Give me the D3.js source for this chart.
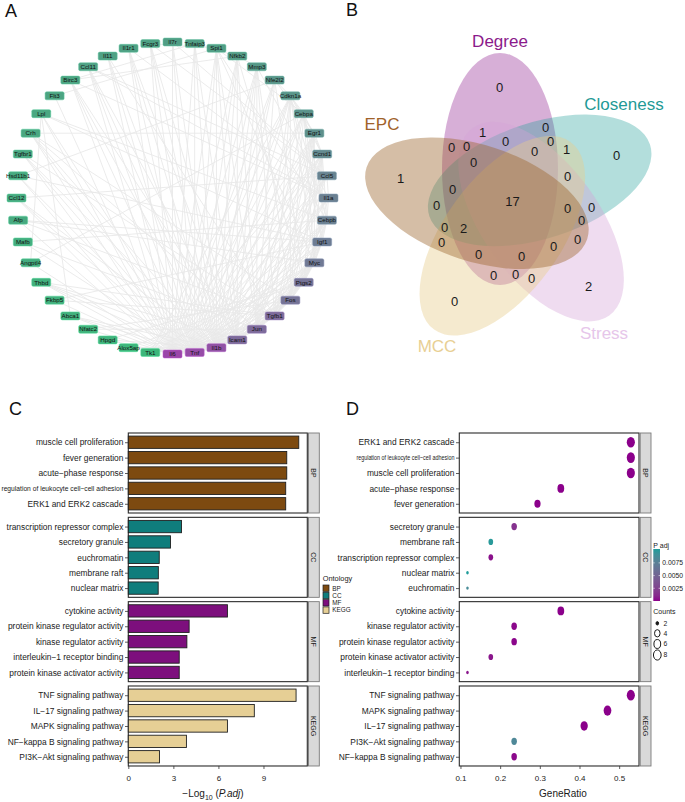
<!DOCTYPE html>
<html>
<head>
<meta charset="UTF-8">
<title>Hub genes and enrichment</title>
<script src="https://d3js.org/d3.v7.min.js"></script>
<style>
body { margin: 0; background: #fff; }
text { font-family: "Liberation Sans", Arial, sans-serif; }
</style>
</head>
<body>
<svg class="figure"></svg>
<script>
// ---------------- data ----------------
// A: PPI network, genes in circle order (from the bottom, going round to the right)
const genes = ["Il6","Tnf","Il1b","Icam1","Jun","Tgfb1","Fos","Ptgs2","Myc","Igf1","Cebpb","Il1a",
  "Ccl5","Ccnd1","Egr1","Cebpa","Cdkn1a","Nfe2l2","Mmp3","Nfkb2","Spi1","Tnfaip3","Il7r","Fcgr3",
  "Il1r1","Il11","Ccl11","Birc3","Flt3","Lpl","Crh","Tgfbr1","Hsd11b1","Ccl12","Afp","Mafb",
  "Angptl4","Thbd","Fkbp5","Abca1","Nfatc2","Hpgd","Alox5ap","Tk1"];
// degree
const geneDegree = [40,38,36,28,28,28,25,25,23,22,21,21,20,18,16,15,14,14,13,12,11,11,11,10,
  10,10,10,9,9,8,8,8,7,7,7,6,6,5,5,5,4,4,3,3];
const ppiEdges = [
  ["Il6","Tnf Il1b Icam1 Jun Tgfb1 Fos Ptgs2 Myc Igf1 Cebpb Il1a Ccl5 Ccnd1 Egr1 Cebpa Cdkn1a Nfe2l2 Mmp3 Nfkb2 Spi1 Tnfaip3 Il7r Fcgr3 Il1r1 Il11 Ccl11 Birc3 Flt3 Lpl Crh Tgfbr1 Hsd11b1 Ccl12 Afp Angptl4 Thbd Fkbp5 Abca1 Nfatc2 Hpgd"],
  ["Tnf","Il1b Icam1 Jun Tgfb1 Fos Ptgs2 Myc Igf1 Cebpb Il1a Ccl5 Ccnd1 Egr1 Cebpa Cdkn1a Nfe2l2 Mmp3 Nfkb2 Spi1 Tnfaip3 Il7r Fcgr3 Il1r1 Il11 Ccl11 Birc3 Lpl Crh Tgfbr1 Hsd11b1 Ccl12 Mafb Thbd Abca1 Alox5ap"],
  ["Il1b","Icam1 Jun Tgfb1 Fos Ptgs2 Myc Igf1 Cebpb Il1a Ccl5 Egr1 Cebpa Nfe2l2 Mmp3 Nfkb2 Tnfaip3 Il1r1 Il11 Ccl11 Birc3 Crh Ccl12 Hpgd Abca1 Fcgr3 Il7r Spi1 Thbd Alox5ap Ccnd1 Cdkn1a Tgfbr1"],
  ["Icam1","Jun Tgfb1 Fos Ptgs2 Myc Cebpb Il1a Ccl5 Egr1 Mmp3 Nfkb2 Spi1 Tnfaip3 Fcgr3 Il1r1 Ccl11 Thbd Birc3"],
  ["Jun","Tgfb1 Fos Ptgs2 Myc Igf1 Cebpb Ccnd1 Egr1 Cebpa Cdkn1a Nfe2l2 Mmp3 Nfkb2 Spi1 Nfatc2 Mafb Crh"],
  ["Tgfb1","Fos Ptgs2 Myc Igf1 Ccl5 Ccnd1 Egr1 Cdkn1a Mmp3 Tgfbr1 Il11 Afp Thbd Fkbp5"],
  ["Fos","Ptgs2 Myc Igf1 Cebpb Ccnd1 Egr1 Cebpa Cdkn1a Mmp3 Nfatc2 Crh"],
  ["Ptgs2","Myc Igf1 Cebpb Il1a Ccnd1 Egr1 Nfe2l2 Hpgd Alox5ap Nfkb2"],
  ["Myc","Igf1 Cebpb Ccnd1 Egr1 Cebpa Cdkn1a Spi1 Tk1 Afp"],
  ["Igf1","Cebpb Ccnd1 Cdkn1a Cebpa Lpl Afp Hsd11b1 Fkbp5"],
  ["Cebpb","Cebpa Il1a Ccnd1 Cdkn1a Spi1 Mafb Lpl"],
  ["Il1a","Ccl5 Il1r1 Mmp3 Birc3 Ccl11"],
  ["Ccl5","Ccl11 Ccl12 Il7r Fcgr3"],
  ["Ccnd1","Cdkn1a Egr1 Cebpa Tk1"],
  ["Egr1","Cdkn1a Nfe2l2 Crh"],
  ["Cebpa","Spi1 Cdkn1a Angptl4"],
  ["Cdkn1a","Nfe2l2 Tk1"],
  ["Nfe2l2","Hsd11b1"],
  ["Mmp3","Nfkb2"],
  ["Nfkb2","Birc3 Tnfaip3"],
  ["Spi1","Flt3 Fcgr3"],
  ["Tnfaip3","Birc3"],
  ["Lpl","Angptl4 Abca1"]
];

// B: five-way Venn of hub-gene rankings
const vennSets = ["Degree","Closeness","Stress","MCC","EPC"];
const vennRegions = [["Degree","Closeness","Stress","MCC","EPC"], ["EPC"], ["Stress"],
  ["Degree","Stress"], ["Closeness","MCC"], ["Degree","Closeness","MCC","EPC"]];
const vennRegionCounts = [17, 1, 2, 1, 1, 2];   // every other region holds 0

// C / D: enrichment terms
const ontologies = ["BP","CC","MF","KEGG"];
const termNames = [
  "muscle cell proliferation","fever generation","acute\u2212phase response",
  "regulation of leukocyte cell\u2212cell adhesion","ERK1 and ERK2 cascade",
  "transcription repressor complex","secretory granule","euchromatin","membrane raft","nuclear matrix",
  "cytokine activity","protein kinase regulator activity","kinase regulator activity",
  "interleukin\u22121 receptor binding","protein kinase activator activity",
  "TNF signaling pathway","IL\u221217 signaling pathway","MAPK signaling pathway",
  "NF\u2212kappa B signaling pathway","PI3K\u2212Akt signaling pathway"];
const termOntology = ["BP","BP","BP","BP","BP","CC","CC","CC","CC","CC",
  "MF","MF","MF","MF","MF","KEGG","KEGG","KEGG","KEGG","KEGG"];
const negLog10Padj = [11.35,10.55,10.55,10.48,10.48, 3.54,2.81,2.06,2.00,1.99,
  6.60,4.05,3.90,3.39,3.39, 11.17,8.39,6.60,3.87,2.08];
const geneCount = [9,5,6,9,9, 3,4,2,3,2, 6,4,4,2,3, 9,7,8,4,4];
const geneTotal = 17;
const xTicksC = [0,3,6,9];
const xTicksD = [0.1,0.2,0.3,0.4,0.5];
const padjTicks = [0.0025,0.005,0.0075];
const countTicks = [2,4,6,8];

// ---------------- figure ----------------
const W = 685, H = 802;
const svg = d3.select(".figure").attr("width", W).attr("height", H);
svg.append("rect").attr("width", W).attr("height", H).attr("fill", "#fff");

// panel letters
[["A",5,17],["B",346,16],["C",9,415],["D",346,415]].forEach(([t,x,y])=>{
  svg.append("text").attr("x",x).attr("y",y).attr("font-size",18).attr("fill","#111").text(t);
});

// ---------- A: circular network ----------
const netC = {x:172.5, y:198}, netR = 156;
const net = svg.append("g");
const pos = {};
genes.forEach((g,i)=>{
  const a = i*2*Math.PI/genes.length;
  pos[g] = {x: netC.x + netR*Math.sin(a), y: netC.y + netR*Math.cos(a)};
});
const edgeList = [];
ppiEdges.forEach(([s,ts])=> ts.split(" ").forEach(t=> edgeList.push([s,t])));

net.selectAll("line.edge").data(edgeList).enter().append("line")
  .attr("class","edge")
  .attr("x1",d=>pos[d[0]].x).attr("y1",d=>pos[d[0]].y)
  .attr("x2",d=>pos[d[1]].x).attr("y2",d=>pos[d[1]].y)
  .attr("stroke","#e9e9e9").attr("stroke-width",0.9);

const degColor = d3.scaleLinear()
  .domain([d3.min(geneDegree), d3.max(geneDegree)])
  .range(["#3db67b","#9b46a9"]);

const node = net.selectAll("g.node").data(genes).enter().append("g")
  .attr("class","node")
  .attr("transform",d=>`translate(${pos[d].x},${pos[d].y})`);
node.append("rect")
  .attr("x",-9.5).attr("y",-4).attr("width",19).attr("height",8).attr("rx",1.5)
  .attr("fill",(d,i)=>degColor(geneDegree[i]))
  .attr("stroke",(d,i)=>d3.color(degColor(geneDegree[i])).brighter(0.6))
  .attr("stroke-width",0.5);
node.append("text")
  .attr("text-anchor","middle").attr("dy","0.35em")
  .attr("font-size",6.2).attr("fill","#111")
  .text(d=>d);

// ---------- B: Venn ----------
const vennC = [512, 202], vennShift = [-12, -33], vennRx = 58, vennRy = 116;
const vennFill = ["#8b1a8b","#1f9e97","#d6a4d8","#e6cc8c","#9a642c"];
const vennAlpha = [0.35,0.34,0.38,0.42,0.42];
const vennInk = ["#8b1a8b","#1f9a96","#e6c6ea","#e8cf94","#a0622a"];
const vennLabelAt = [[500,41],[624,104],[604,333],[437,346],[382,124]];

const ell = vennSets.map((s,i)=>{
  const t = i*72*Math.PI/180;
  return {set:s, t, rot:i*72,
    cx: vennC[0] + vennShift[0]*Math.cos(t) - vennShift[1]*Math.sin(t),
    cy: vennC[1] + vennShift[0]*Math.sin(t) + vennShift[1]*Math.cos(t)};
});
const inside = (e,x,y)=>{
  const dx=x-e.cx, dy=y-e.cy;
  const u = dx*Math.cos(e.t) + dy*Math.sin(e.t);
  const v = -dx*Math.sin(e.t) + dy*Math.cos(e.t);
  return (u/vennRx)**2 + (v/vennRy)**2 <= 1;
};

const venn = svg.append("g");
venn.selectAll("ellipse").data(ell).enter().append("ellipse")
  .attr("cx",d=>d.cx).attr("cy",d=>d.cy).attr("rx",vennRx).attr("ry",vennRy)
  .attr("transform",d=>`rotate(${d.rot},${d.cx},${d.cy})`)
  .attr("fill",(d,i)=>vennFill[i]).attr("fill-opacity",(d,i)=>vennAlpha[i]);

venn.selectAll("text.set").data(vennSets).enter().append("text")
  .attr("class","set")
  .attr("x",(d,i)=>vennLabelAt[i][0]).attr("y",(d,i)=>vennLabelAt[i][1])
  .attr("text-anchor","middle").attr("dy","0.35em")
  .attr("font-size",17).attr("fill",(d,i)=>vennInk[i])
  .text(d=>d);

// region counts keyed by membership bitmask
const regionCount = {};
vennRegions.forEach((r,k)=>{
  const key = r.reduce((m,s)=> m | (1<<vennSets.indexOf(s)), 0);
  regionCount[key] = vennRegionCounts[k];
});

// place each region's number at the point deepest inside that region
const gx0 = 350, gy0 = 40, gw = 320, gh = 300;
const key = new Int32Array(gw*gh);
for (let j=0;j<gh;j++) for (let i=0;i<gw;i++){
  let k = 0;
  ell.forEach((e,s)=>{ if (inside(e, gx0+i+0.5, gy0+j+0.5)) k |= (1<<s); });
  key[j*gw+i] = k;
}
const dist = new Float32Array(gw*gh);
for (let j=0;j<gh;j++) for (let i=0;i<gw;i++){
  const id=j*gw+i, k=key[id];
  let edge = (i===0||j===0||i===gw-1||j===gh-1);
  if (!edge) edge = key[id-1]!==k || key[id+1]!==k || key[id-gw]!==k || key[id+gw]!==k;
  dist[id] = edge ? 0.5 : 1e9;
}
const D2 = Math.SQRT2;
for (let j=1;j<gh;j++) for (let i=1;i<gw-1;i++){
  const id=j*gw+i;
  dist[id] = Math.min(dist[id], dist[id-1]+1, dist[id-gw]+1, dist[id-gw-1]+D2, dist[id-gw+1]+D2);
}
for (let j=gh-2;j>=0;j--) for (let i=gw-2;i>0;i--){
  const id=j*gw+i;
  dist[id] = Math.min(dist[id], dist[id+1]+1, dist[id+gw]+1, dist[id+gw+1]+D2, dist[id+gw-1]+D2);
}
const best = {};
for (let id=0;id<gw*gh;id++){
  const k = key[id];
  if (!k) continue;
  if (!best[k] || dist[id] > best[k].d) best[k] = {d:dist[id], x:gx0+(id%gw)+0.5, y:gy0+Math.floor(id/gw)+0.5};
}
const vennLabels = Object.keys(best).map(k=>({key:+k, x:best[k].x, y:best[k].y, n: regionCount[k] || 0}));
venn.selectAll("text.count").data(vennLabels).enter().append("text")
  .attr("class","count")
  .attr("x",d=>d.x).attr("y",d=>d.y)
  .attr("text-anchor","middle").attr("dy","0.36em")
  .attr("font-size",13).attr("fill","#1a1a1a")
  .text(d=>d.n);

// ---------- C and D: faceted enrichment plots ----------
const facetTop = 433, facetH = 80, facetGap = 4.33;
const facetY = i => facetTop + i*(facetH+facetGap);
const ontColor = {BP:"#7d4a10", CC:"#0f7d7c", MF:"#7d0f7d", KEGG:"#e6cf95"};
const terms = termNames.map((t,i)=>({term:t, ont:termOntology[i], idx:i,
  logp:negLog10Padj[i], count:geneCount[i], ratio:geneCount[i]/geneTotal,
  padj: Math.pow(10, -negLog10Padj[i])}));

function drawFrame(g, x0, x1, top, label){
  g.append("rect").attr("x",x0).attr("y",top).attr("width",x1-x0).attr("height",facetH)
    .attr("fill","none").attr("stroke","#2b2b2b").attr("stroke-width",1.1);
  g.append("rect").attr("x",x1+1.2).attr("y",top).attr("width",10.8).attr("height",facetH)
    .attr("fill","#d9d9d9").attr("stroke","#7a7a7a").attr("stroke-width",0.9);
  g.append("text")
    .attr("transform",`translate(${x1+6.6},${top+facetH/2}) rotate(90)`)
    .attr("text-anchor","middle").attr("dy","0.35em")
    .attr("font-size",7).attr("fill","#1a1a1a").text(label);
}
function styleAxis(a, fs){
  a.select(".domain").remove();
  a.selectAll(".tick line").attr("stroke","#333").attr("stroke-width",0.8);
  a.selectAll(".tick text").attr("font-size",fs).attr("fill","#1a1a1a")
    .attr("font-family",'"Liberation Sans", Arial, sans-serif');
}
function fitLongLabel(a, width){
  a.selectAll(".tick text").filter(d=>d.startsWith("regulation of leukocyte"))
    .attr("font-size",7).attr("textLength",width).attr("lengthAdjust","spacingAndGlyphs");
}

// --- C: bars ---
const cX0 = 128.3, cX1 = 307.3;
const xBar = d3.scaleLinear().domain([0, d3.max(negLog10Padj)*1.05]).range([cX0, cX1]);
const barG = svg.append("g");
ontologies.forEach((o,fi)=>{
  const top = facetY(fi);
  const rows = terms.filter(d=>d.ont===o);
  const y = d3.scalePoint().domain(rows.map(d=>d.term)).range([top, top+facetH]).padding(0.6);
  const bh = y.step()*0.8;
  drawFrame(barG, cX0, cX1, top, o);
  barG.selectAll(null).data(rows).enter().append("rect")
    .attr("x",xBar(0)).attr("y",d=>y(d.term)-bh/2)
    .attr("width",d=>xBar(d.logp)-xBar(0)).attr("height",bh)
    .attr("fill",ontColor[o]).attr("stroke","#1f1f1f").attr("stroke-width",0.9);
  const ay = barG.append("g").attr("transform",`translate(${cX0},0)`)
    .call(d3.axisLeft(y).tickSize(3.3).tickPadding(1.6));
  styleAxis(ay, 8.4);
  fitLongLabel(ay, 122);
});
const axC = barG.append("g").attr("transform",`translate(0,${facetY(3)+facetH})`)
  .call(d3.axisBottom(xBar).tickValues(xTicksC).tickSize(3).tickPadding(6));
styleAxis(axC, 8);
const titleC = barG.append("text").attr("x",213).attr("y",797)
  .attr("text-anchor","middle").attr("font-size",10).attr("fill","#1a1a1a");
titleC.append("tspan").text("\u2212Log");
titleC.append("tspan").attr("font-size",7).attr("dy",2.5).text("10");
titleC.append("tspan").attr("dy",-2.5).text(" (");
titleC.append("tspan").attr("font-style","italic").text("P.adj");
titleC.append("tspan").text(")");

// Ontology legend
const legO = svg.append("g").attr("transform","translate(322.7,0)");
legO.append("text").attr("x",0).attr("y",581).attr("font-size",7.4).attr("fill","#1a1a1a").text("Ontology");
legO.selectAll("rect").data(ontologies).enter().append("rect")
  .attr("x",0.3).attr("y",(d,i)=>585+i*7.3).attr("width",6).attr("height",6.4)
  .attr("fill",d=>ontColor[d]).attr("stroke","#1f1f1f").attr("stroke-width",0.7);
legO.selectAll("text.lab").data(ontologies).enter().append("text").attr("class","lab")
  .attr("x",9.6).attr("y",(d,i)=>588.3+i*7.3).attr("dy","0.35em")
  .attr("font-size",6.4).attr("fill","#1a1a1a").text(d=>d);

// --- D: dots ---
const dX0 = 459.3, dX1 = 639;
const rMin = d3.min(terms,d=>d.ratio), rMax = d3.max(terms,d=>d.ratio);
const rPad = (rMax-rMin)*0.05;
const xDot = d3.scaleLinear().domain([rMin-rPad, rMax+rPad]).range([dX0, dX1]);
const cMin = d3.min(geneCount), cMax = d3.max(geneCount);
const sizeScale = d3.scaleSqrt().domain([0, cMax-cMin]).range([1.7, 5.35]);
const dotR = c => sizeScale(c-cMin);
const pMin = d3.min(terms,d=>d.padj), pMax = d3.max(terms,d=>d.padj);
const pColor = d3.scaleLinear().domain([pMin, pMax]).range(["#8b008b","#1f9c9a"]).interpolate(d3.interpolateLab);

const dotG = svg.append("g");
ontologies.forEach((o,fi)=>{
  const top = facetY(fi);
  // highest GeneRatio first; ties keep reverse of panel C order
  const rows = terms.filter(d=>d.ont===o).reverse().sort((a,b)=>b.count-a.count);
  const y = d3.scalePoint().domain(rows.map(d=>d.term)).range([top, top+facetH]).padding(0.6);
  drawFrame(dotG, dX0, dX1, top, o);
  dotG.selectAll(null).data(rows).enter().append("ellipse")
    .attr("cx",d=>xDot(d.ratio)).attr("cy",d=>y(d.term))
    .attr("rx",d=>dotR(d.count)*0.76).attr("ry",d=>dotR(d.count))
    .attr("fill",d=>pColor(d.padj));
  const ay = dotG.append("g").attr("transform",`translate(${dX0},0)`)
    .call(d3.axisLeft(y).tickSize(3.3).tickPadding(1.6));
  styleAxis(ay, 8.4);
  fitLongLabel(ay, 98);
});
const axD = dotG.append("g").attr("transform",`translate(0,${facetY(3)+facetH})`)
  .call(d3.axisBottom(xDot).tickValues(xTicksD).tickFormat(d3.format(".1f")).tickSize(3).tickPadding(6));
styleAxis(axD, 8);
dotG.append("text").attr("x",563).attr("y",797).attr("text-anchor","middle")
  .attr("font-size",10).attr("fill","#1a1a1a").text("GeneRatio");

// P adj colourbar
const cbX = 653.3, cbW = 6.7, cbTop = 549, cbBot = 601;
const grad = svg.append("defs").append("linearGradient").attr("id","padjGrad")
  .attr("x1",0).attr("y1",1).attr("x2",0).attr("y2",0);
d3.range(0,1.0001,0.1).forEach(t=>{
  grad.append("stop").attr("offset",t).attr("stop-color",pColor(pMin + t*(pMax-pMin)));
});
const cbY = d3.scaleLinear().domain([pMin,pMax]).range([cbBot,cbTop]);
const legP = svg.append("g");
legP.append("text").attr("x",cbX).attr("y",547.5).attr("font-size",7).attr("fill","#1a1a1a").text("P adj");
legP.append("rect").attr("x",cbX).attr("y",cbTop).attr("width",cbW).attr("height",cbBot-cbTop)
  .attr("fill","url(#padjGrad)");
padjTicks.forEach(v=>{
  legP.append("line").attr("x1",cbX).attr("x2",cbX+1.4).attr("y1",cbY(v)).attr("y2",cbY(v))
    .attr("stroke","#fff").attr("stroke-width",0.6);
  legP.append("line").attr("x1",cbX+cbW-1.4).attr("x2",cbX+cbW).attr("y1",cbY(v)).attr("y2",cbY(v))
    .attr("stroke","#fff").attr("stroke-width",0.6);
  legP.append("text").attr("x",cbX+cbW+2.3).attr("y",cbY(v)).attr("dy","0.35em")
    .attr("font-size",6.8).attr("fill","#1a1a1a").text(d3.format(".4f")(v));
});

// Counts legend
const legS = svg.append("g");
legS.append("text").attr("x",cbX).attr("y",614).attr("font-size",7).attr("fill","#1a1a1a").text("Counts");
const keyY = [623.3, 633.3, 644, 655];
countTicks.forEach((c,i)=>{
  legS.append("ellipse").attr("cx",657.3).attr("cy",keyY[i])
    .attr("rx",dotR(c)*0.76).attr("ry",dotR(c))
    .attr("fill",c===cMin ? "#1a1a1a" : "none").attr("stroke","#1a1a1a").attr("stroke-width",1);
  legS.append("text").attr("x",663.5).attr("y",keyY[i]).attr("dy","0.35em")
    .attr("font-size",6.8).attr("fill","#1a1a1a").text(c);
});
</script>
</body>
</html>
